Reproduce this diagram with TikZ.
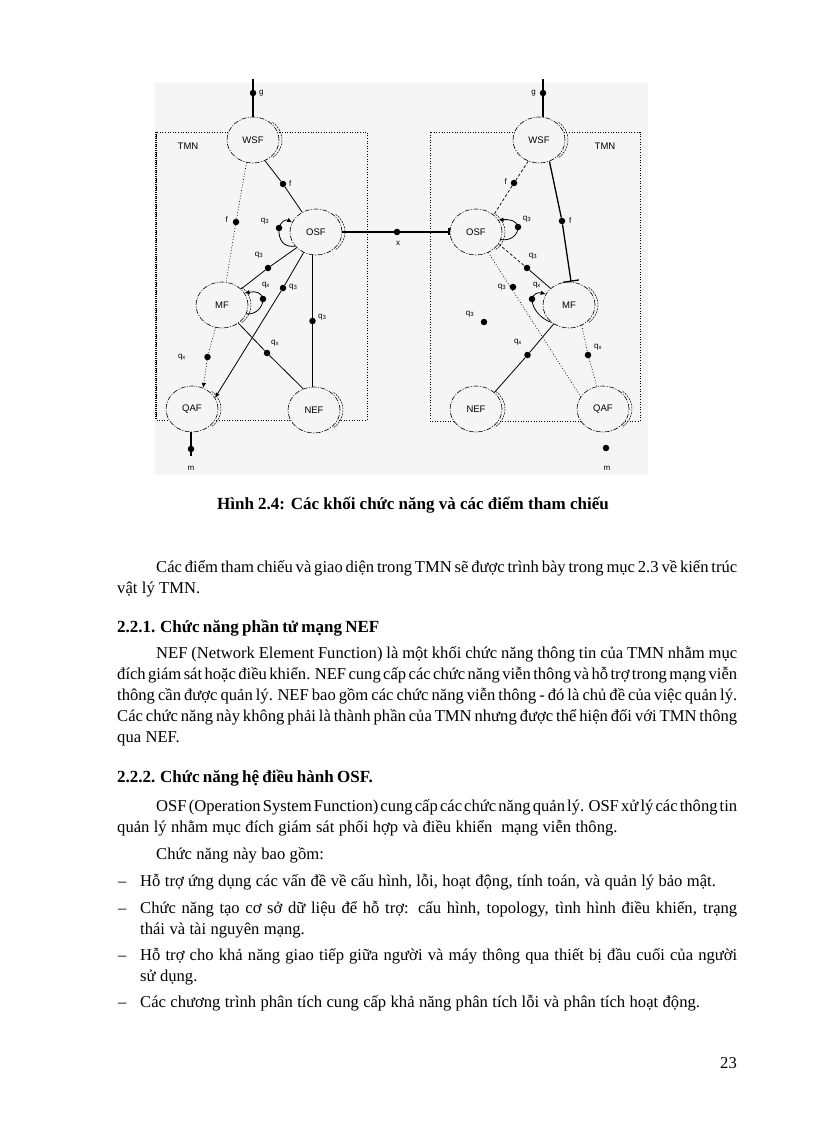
\documentclass[tikz,border=0pt]{standalone}
\usepackage{fontspec}
\setmainfont{Liberation Serif}
\newfontfamily\diagfont{Liberation Sans}
\usetikzlibrary{shapes.geometric,arrows.meta,calc}
\definecolor{bgc}{gray}{0.96}
\newcommand\tightsp{\spaceskip=3.3pt plus 5pt minus 1.3pt\relax}
\newcommand\widesp{\spaceskip=4.4pt plus 1pt minus 1pt\relax}
\newcommand\headsp{\spaceskip=3.3pt plus 2pt minus 1pt\relax}
\tikzset{
 fn/.style={ellipse, draw, fill=bgc, minimum width=52pt, minimum height=46pt, inner sep=0pt,
   dash pattern=on 5pt off 1.5pt on 1pt off 1.5pt, line width=0.6pt,
   font=\diagfont\fontsize{9.5}{10}\selectfont},
 blob/.style={circle, fill=black, minimum size=6.5pt, inner sep=0pt},
 smalllab/.style={inner sep=0pt, font=\diagfont\fontsize{8}{9}\selectfont},
 tmnlab/.style={inner sep=0pt, font=\diagfont\fontsize{9.5}{10}\selectfont},
 cline/.style={line width=0.8pt},
 thickl/.style={line width=1.3pt},
 dotl/.style={line width=0.7pt, dash pattern=on 0.8pt off 2pt},
 dashl/.style={line width=0.7pt, dash pattern=on 3pt off 2pt},
 arrowed/.style={-{Latex[length=5pt,width=4.5pt]}},
 rimst/.style={line width=0.5pt, dash pattern=on 2pt off 1pt},
 tmnbox/.style={line width=0.7pt, dash pattern=on 1pt off 1.6pt},
 tl/.style={anchor=base west, inner sep=0pt, font=\fontsize{16.6}{21}\selectfont},
 hl/.style={anchor=base west, inner sep=0pt, font=\bfseries\fontsize{17}{21}\selectfont},
}
\newcommand\rimarc[1]{\draw[rimst] ([shift={(19.7,-17.6)}]#1.center) arc[start angle=-50,end angle=50,x radius=26,y radius=23];}
\newcommand\txtj[5]{\node[tl] (#1) at (#2,#3) {\tightsp\makebox[#4pt][s]{#5}};}
\newcommand\txtn[4]{\node[tl] (#1) at (#2,#3) {\widesp #4};}
\begin{document}
\begin{tikzpicture}[x=1pt,y=-1pt]
\fill[white] (0,0) rectangle (816,1123);
\useasboundingbox (0,0) rectangle (816,1123);
% scan background
\fill[bgc] (155,83) rectangle (648,475);
% TMN boxes
\draw[tmnbox] (156,132) rectangle (367,420);
\draw[line width=1.4pt, dash pattern=on 1pt off 1pt] (156,132) -- (156,420);
\draw[tmnbox] (430,132) rectangle (640,421);
\node[tmnlab] (tmnL) at (188,146) {TMN};
\node[tmnlab] (tmnR) at (605,146) {TMN};
% function blocks
\node[fn] (wsfL) at (253,140) {WSF};
\node[fn] (osfL) at (316,232) {OSF};
\node[fn] (mfL) at (222,305) {MF};
\node[fn] (qafL) at (192,409) {QAF};
\node[fn] (nefL) at (314,410) {NEF};
\node[fn] (wsfR) at (539,140) {WSF};
\node[fn] (osfR) at (476,232) {OSF};
\node[fn] (mfR) at (569,305) {MF};
\node[fn] (nefR) at (476,409) {NEF};
\node[fn] (qafR) at (603,409) {QAF};
\rimarc{wsfL}\rimarc{osfL}\rimarc{mfL}\rimarc{qafL}\rimarc{nefL}
\rimarc{wsfR}\rimarc{osfR}\rimarc{mfR}\rimarc{nefR}\rimarc{qafR}
% ---------- left side ----------
\coordinate (gtopL) at (253,79);
\node[blob] (gdL) at (253,93) {};
\draw[thickl] (gtopL) -- (gdL) -- (wsfL.north);
\node[smalllab, anchor=west] (gLl) at (259,93) {g};
\node[blob] (fdL1) at (283,184) {};
\draw[cline] (wsfL.-60) -- (fdL1) -- (osfL.125);
\node[smalllab, anchor=west] (fLl1) at (289,184) {f};
\node[blob] (fdL2) at (236,222) {};
\draw[dotl] (wsfL.-106) -- (fdL2) -- (mfL.80);
\node[smalllab, anchor=east] (fLl2) at (228,220) {f};
\node[blob] (qdL1) at (279,228) {};
\draw[cline] (osfL.-146) .. controls (284,248) and (278,240) .. (qdL1.center);
\draw[cline, arrowed] (qdL1.center) .. controls (281,221) and (286,219) .. (osfL.158);
\node[smalllab] (qLl1) at (265,221) {q\textsubscript{3}};
\node[blob] (qdL2) at (268,268) {};
\draw[cline] (osfL.-141) -- (qdL2) -- (mfL.40);
\node[smalllab] (qLl2) at (259,255) {q\textsubscript{3}};
\node[blob] (qdL3) at (283,288) {};
\draw[cline] (osfL.-121) -- (qdL3);
\draw[cline, arrowed] (qdL3) -- (qafL.26);
\node[smalllab, anchor=west] (qLl3) at (289,287) {q\textsubscript{3}};
\node[blob] (qdL4) at (312.5,321) {};
\draw[thickl] (osfL.south -| qdL4) -- (qdL4) -- (nefL.north -| qdL4);
\node[smalllab, anchor=west] (qLl4) at (318,317) {q\textsubscript{3}};
\node[blob] (xdL1) at (263,299) {};
\draw[cline] (mfL.-20) .. controls (256,315) and (263,307) .. (xdL1.center);
\draw[cline, arrowed] (xdL1.center) .. controls (261,292) and (256,291) .. (mfL.28);
\node[smalllab] (xLl1) at (266,285) {q\textsubscript{x}};
\node[blob] (xdL2) at (267,353) {};
\draw[cline] (mfL.-48) -- (xdL2) -- (nefL.117);
\node[smalllab, anchor=west] (xLl2) at (271,343) {q\textsubscript{x}};
\node[blob] (xdL3) at (207.5,357) {};
\draw[dotl] (mfL.-106) -- (xdL3);
\draw[dotl, arrowed] (xdL3) -- (qafL.62);
\node[smalllab] (xLl3) at (182,357) {q\textsubscript{x}};
\node[blob] (mdL) at (191,449) {};
\coordinate (mbotL) at (191,456);
\draw[thickl] (qafL.south -| mdL) -- (mdL) -- (mbotL);
\node[smalllab] (mLl) at (191,468) {m};
% x reference point
\node[blob] (xd) at (397,232) {};
\draw[thickl] (osfL.east) -- (xd);
\draw[thickl, -{Bar[width=7pt]}] (xd) -- (osfR.west);
\node[smalllab] (xl) at (398,243) {x};
% ---------- right side ----------
\coordinate (gtopR) at (543,79);
\node[blob] (gdR) at (543,93) {};
\draw[thickl] (gtopR) -- (gdR) -- (wsfR.north -| gdR);
\node[smalllab, anchor=east] (gRl) at (536,93) {g};
\node[blob] (fdR1) at (562,221) {};
\draw[thickl] (wsfR.-64) -- (fdR1);
\draw[thickl, -{Bar[width=16pt]}] (fdR1) -- (mfR.85);
\node[smalllab, anchor=west] (fRl1) at (569,221) {f};
\node[blob] (fdR2) at (514,183) {};
\draw[dashl] (wsfR.-117) -- (fdR2) -- (osfR.44);
\node[smalllab, anchor=east] (fRl2) at (507,182) {f};
\node[blob] (qdR1) at (518,227) {};
\draw[cline] (osfR.-17) .. controls (511,241) and (518,235) .. (qdR1.center);
\draw[cline, arrowed] (qdR1.center) .. controls (517,221) and (510,219) .. (osfR.28);
\node[smalllab] (qRl1) at (527,219) {q\textsubscript{3}};
\node[blob] (qdR2) at (527,268) {};
\draw[dashl] (osfR.-28) -- (qdR2);
\draw[cline] (qdR2) -- (mfR.138);
\node[smalllab] (qRl2) at (533,256) {q\textsubscript{3}};
\node[blob] (qdR3) at (513,287) {};
\node[smalllab] (qRl3) at (502,287) {q\textsubscript{3}};
\node[blob] (qdR4) at (484,322) {};
\node[smalllab] (qRl4) at (470,314) {q\textsubscript{3}};
\node[blob] (xdR1) at (532,299) {};
\draw[cline] (mfR.-135) .. controls (541,319) and (532,309) .. (xdR1.center);
\draw[cline, arrowed] (xdR1.center) .. controls (533,294) and (538,292) .. (mfR.155);
\node[smalllab] (xRl1) at (537,285) {q\textsubscript{x}};
\draw[dotl] (osfR.-59) -- (qafR.151);
\node[blob] (xdR2) at (527.5,355) {};
\draw[cline] (mfR.-129) -- (xdR2) -- (nefR.42);
\node[smalllab] (xRl2) at (518,342) {q\textsubscript{x}};
\node[blob] (xdR3) at (588,355) {};
\draw[dotl] (mfR.-58) -- (xdR3) -- (qafR.105);
\node[smalllab, anchor=west] (xRl3) at (594,347) {q\textsubscript{x}};
\node[blob] (mdR) at (606,448) {};
\node[smalllab] (mRl) at (607,468) {m};
% ---------- text ----------
\node[anchor=base, inner sep=0pt, font=\bfseries\fontsize{17}{20}\selectfont] (cap) at (413,509) {Hình 2.4: Các khối chức năng và các điểm tham chiếu};
\txtj{p1a}{156}{572}{581}{Các điểm tham chiếu và giao diện trong TMN sẽ được trình bày trong mục 2.3 về kiến trúc}
\txtn{p1b}{117}{593}{vật lý TMN.}
\node[hl] (h1) at (117,632) {\headsp 2.2.1. Chức năng phần tử mạng NEF};
\txtj{p2a}{156}{658}{581}{NEF (Network Element Function) là một khối chức năng thông tin của TMN nhằm mục}
\txtj{p2b}{117}{679}{620}{đích giám sát hoặc điều khiển. NEF cung cấp các chức năng viễn thông và hỗ trợ trong mạng viễn}
\txtj{p2c}{117}{700}{620}{thông cần được quản lý. NEF bao gồm các chức năng viễn thông - đó là chủ đề của việc quản lý.}
\txtj{p2d}{117}{721}{620}{Các chức năng này không phải là thành phần của TMN nhưng được thể hiện đối với TMN thông}
\txtn{p2e}{117}{742}{qua NEF.}
\node[hl] (h2) at (117,782) {\headsp 2.2.2. Chức năng hệ điều hành OSF.};
\txtj{p3a}{156}{811}{581}{OSF (Operation System Function) cung cấp các chức năng quản lý. OSF xử lý các thông tin}
\txtn{p3b}{117}{832}{quản lý nhằm mục đích giám sát phối hợp và điều khiển\ \ mạng viễn thông.}
\txtn{p4}{156}{859}{Chức năng này bao gồm:}
\txtn{d1}{118}{886}{–}
\txtn{b1}{140}{886}{Hỗ trợ ứng dụng các vấn đề về cấu hình, lỗi, hoạt động, tính toán, và quản lý bảo mật.}
\txtn{d2}{118}{913}{–}
\txtj{b2a}{140}{913}{597}{Chức năng tạo cơ sở dữ liệu để hỗ trợ: cấu hình, topology, tình hình điều khiển, trạng}
\txtn{b2b}{140}{934}{thái và tài nguyên mạng.}
\txtn{d3}{118}{960}{–}
\txtj{b3a}{140}{960}{597}{Hỗ trợ cho khả năng giao tiếp giữa người và máy thông qua thiết bị đầu cuối của người}
\txtn{b3b}{140}{981}{sử dụng.}
\txtn{d4}{118}{1007}{–}
\txtn{b4}{140}{1007}{Các chương trình phân tích cung cấp khả năng phân tích lỗi và phân tích hoạt động.}
\node[tl, anchor=base east] (pg) at (737,1068) {23};
\end{tikzpicture}
\end{document}
